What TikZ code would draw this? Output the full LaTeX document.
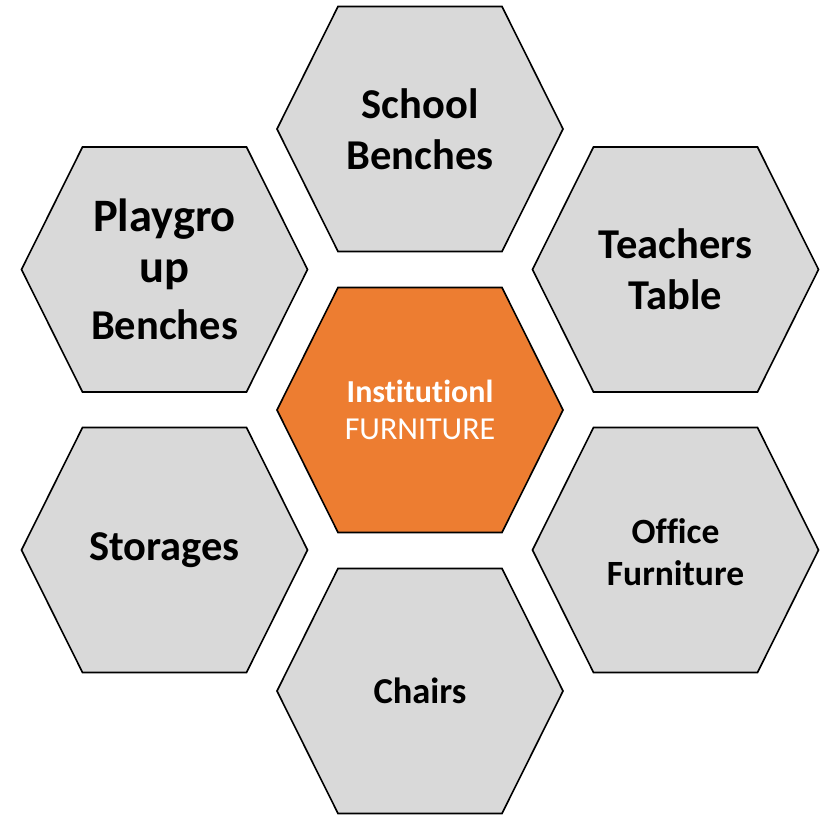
\documentclass[tikz,border=0pt]{standalone}
\usepackage{fontspec}
\setmainfont[Ligatures={NoCommon}]{Carlito}
\definecolor{hexgray}{HTML}{D9D9D9}
\definecolor{hexorange}{HTML}{ED7D31}
\tikzset{
  hexshape/.style={draw=black, line width=1.6pt, line join=miter},
  bigtxt/.style={font=\fontsize{42.5}{51}\selectfont\bfseries, align=center, text=black},
  hugetxt/.style={font=\fontsize{46.5}{55}\selectfont\bfseries, text=black, anchor=base, inner sep=0pt},
  midtxt/.style={font=\fontsize{35.5}{42}\selectfont\bfseries, align=center, text=black},
  smtxt/.style={font=\fontsize{36.5}{44}\selectfont\bfseries, align=center, text=black},
  ctrtxt/.style={font=\fontsize{32}{37}\selectfont, align=center, text=white},
}
\newcommand{\hexpath}[3]{%
  \path[hexshape, fill=#3] (#1-143,#2) -- (#1-82,#2+122.5) -- (#1+82,#2+122.5) -- (#1+143,#2) -- (#1+82,#2-122.5) -- (#1-82,#2-122.5) -- cycle;}
\begin{document}
\begin{tikzpicture}[x=1pt,y=1pt]
\useasboundingbox (0,0) rectangle (821,817);
\hexpath{420}{407}{hexorange}
\hexpath{420}{688}{hexgray}
\hexpath{420}{126}{hexgray}
\hexpath{164.5}{547.5}{hexgray}
\hexpath{164.5}{267}{hexgray}
\hexpath{675.5}{547.5}{hexgray}
\hexpath{675.5}{267}{hexgray}
\node[ctrtxt] (center) at (420,407) {\textbf{Institutionl}\\FURNITURE};
\node[bigtxt] (school) at (420,688) {School\\Benches};
\node[hugetxt] (playA) at (164.5,585) {Playgro};
\node[hugetxt] (playB) at (164.5,534) {up};
\node[hugetxt, font=\fontsize{42.5}{51}\selectfont\bfseries] (playC) at (164.5,477) {Benches};
\node[bigtxt] (storages) at (164.5,267) {Storages};
\node[bigtxt] (teachers) at (675.5,547.5) {Teachers\\Table};
\node[midtxt] (office) at (675.5,265) {Office\\Furniture};
\node[smtxt] (chairs) at (420,126) {Chairs};
\end{tikzpicture}
\end{document}
